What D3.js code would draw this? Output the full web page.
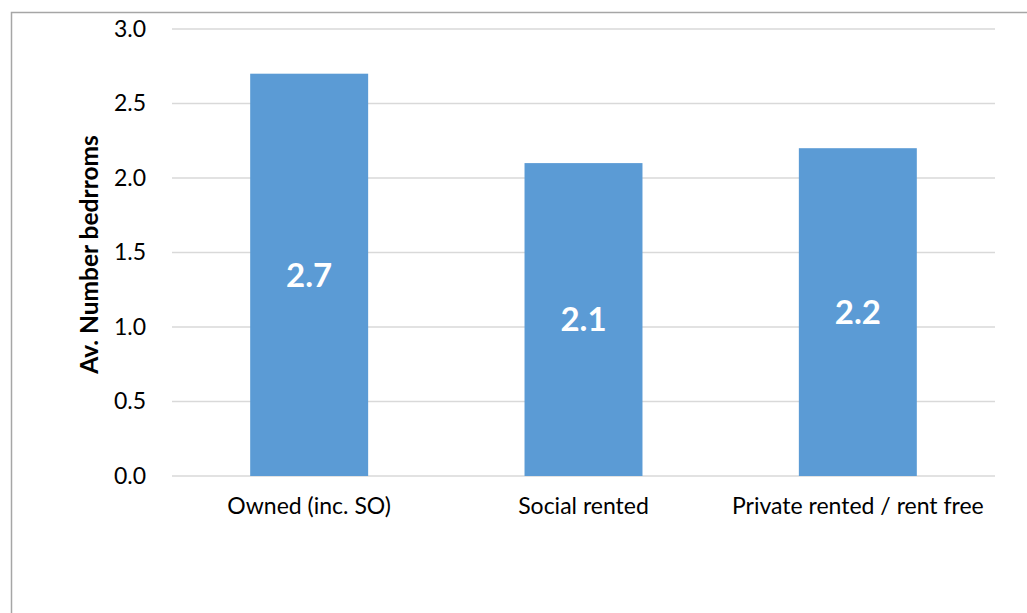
<!DOCTYPE html>
<html>
<head>
<meta charset="utf-8">
<script src="https://cdn.jsdelivr.net/npm/d3@7"></script>
<style>
  html, body { margin: 0; padding: 0; background: #fff; }
  svg { display: block; font-family: Lato, "Open Sans", sans-serif; }
</style>
</head>
<body>
<svg id="chart" width="1027" height="613"></svg>
<script>
// Average number of bedrooms by tenure
const categories = ["Owned (inc. SO)", "Social rented", "Private rented / rent free"];
const avgBedrooms = [2.7, 2.1, 2.2];
const yTicks = [0, 0.5, 1.0, 1.5, 2.0, 2.5, 3.0];
const yTitle = "Av. Number bedrroms";

const svg = d3.select("#chart");
const W = 1027, H = 613;
const plot = { left: 172, right: 995, top: 29, bottom: 476 };

// outer chart frame
svg.append("rect")
  .attr("x", 11.5).attr("y", 12.5)
  .attr("width", W + 20).attr("height", H + 20)
  .attr("fill", "none").attr("stroke", "#a6a6a6").attr("stroke-width", 1.5);

const x = d3.scaleBand().domain(categories)
  .range([plot.left, plot.right]).paddingInner(0.57).paddingOuter(0.285);
const y = d3.scaleLinear().domain([0, 3]).range([plot.bottom, plot.top]);

// horizontal gridlines
svg.append("g").selectAll("line").data(yTicks).join("line")
  .attr("x1", plot.left).attr("x2", plot.right)
  .attr("y1", d => y(d)).attr("y2", d => y(d))
  .attr("stroke", "#d9d9d9").attr("stroke-width", 1.5);

// y axis tick labels
const yAxis = svg.append("g")
  .attr("transform", `translate(${plot.left - 26},0)`)
  .call(d3.axisLeft(y).tickValues(yTicks).tickFormat(d3.format(".1f")).tickSize(0).tickPadding(0));
yAxis.select(".domain").remove();
yAxis.selectAll("text")
  .attr("font-family", "Lato, 'Open Sans', sans-serif")
  .attr("font-size", 23).attr("fill", "#000");

// bars
svg.append("g").selectAll("rect").data(categories).join("rect")
  .attr("x", d => x(d))
  .attr("width", x.bandwidth())
  .attr("y", (d, i) => y(avgBedrooms[i]))
  .attr("height", (d, i) => y(0) - y(avgBedrooms[i]))
  .attr("fill", "#5b9bd5");

// value labels centred within bars
svg.append("g").selectAll("text").data(categories).join("text")
  .attr("x", d => x(d) + x.bandwidth() / 2)
  .attr("y", (d, i) => (y(avgBedrooms[i]) + y(0)) / 2)
  .attr("dy", "0.36em")
  .attr("text-anchor", "middle")
  .attr("font-size", 33).attr("font-weight", "bold").attr("fill", "#fff")
  .text((d, i) => d3.format(".1f")(avgBedrooms[i]));

// category axis labels
const xAxis = svg.append("g")
  .attr("transform", `translate(0,${plot.bottom})`)
  .call(d3.axisBottom(x).tickSize(0).tickPadding(22));
xAxis.select(".domain").remove();
xAxis.selectAll("text")
  .attr("font-family", "Lato, 'Open Sans', sans-serif")
  .attr("font-size", 23).attr("fill", "#000");

// y axis title
svg.append("text")
  .attr("transform", `translate(98,${(plot.top + plot.bottom) / 2 + 2}) rotate(-90)`)
  .attr("text-anchor", "middle")
  .attr("font-size", 24.5).attr("font-weight", "bold").attr("fill", "#000")
  .text(yTitle);
</script>
</body>
</html>
